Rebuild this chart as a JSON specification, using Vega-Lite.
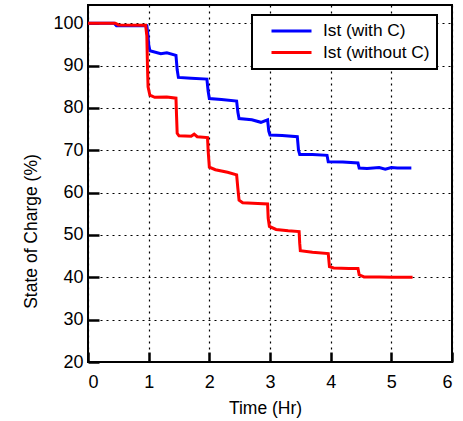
{
  "$schema": "https://vega.github.io/schema/vega-lite/v6.json",
  "width": 364,
  "height": 357,
  "autosize": {"type": "none"},
  "padding": {"left": 88, "top": 5, "right": 11, "bottom": 59},
  "background": "white",
  "config": {
    "font": "Liberation Sans",
    "view": {"stroke": "black", "strokeWidth": 2},
    "axis": {
      "domain": false,
      "grid": true,
      "gridColor": "black",
      "gridDash": [2, 4],
      "gridWidth": 1.2,
      "gridOpacity": 1,
      "labelFont": "Liberation Sans",
      "labelFontSize": 18,
      "labelColor": "black",
      "titleFont": "Liberation Sans",
      "titleFontSize": 17.5,
      "titleFontWeight": "normal",
      "titleColor": "black"
    }
  },
  "data": {
    "values": [
      {"t": 0, "soc": 100, "series": "Ist  (with C)"},
      {"t": 0.43, "soc": 100, "series": "Ist  (with C)"},
      {"t": 0.47, "soc": 99.4, "series": "Ist  (with C)"},
      {"t": 0.97, "soc": 99.4, "series": "Ist  (with C)"},
      {"t": 0.99, "soc": 97, "series": "Ist  (with C)"},
      {"t": 1.0, "soc": 95, "series": "Ist  (with C)"},
      {"t": 1.02, "soc": 93.5, "series": "Ist  (with C)"},
      {"t": 1.2, "soc": 92.8, "series": "Ist  (with C)"},
      {"t": 1.3, "soc": 93.0, "series": "Ist  (with C)"},
      {"t": 1.45, "soc": 92.4, "series": "Ist  (with C)"},
      {"t": 1.47, "soc": 89, "series": "Ist  (with C)"},
      {"t": 1.49, "soc": 87.2, "series": "Ist  (with C)"},
      {"t": 1.7, "soc": 87, "series": "Ist  (with C)"},
      {"t": 1.96, "soc": 86.8, "series": "Ist  (with C)"},
      {"t": 1.98, "soc": 84, "series": "Ist  (with C)"},
      {"t": 2.0, "soc": 82.2, "series": "Ist  (with C)"},
      {"t": 2.2, "soc": 82, "series": "Ist  (with C)"},
      {"t": 2.45, "soc": 81.6, "series": "Ist  (with C)"},
      {"t": 2.47, "soc": 79, "series": "Ist  (with C)"},
      {"t": 2.49, "soc": 77.5, "series": "Ist  (with C)"},
      {"t": 2.7, "soc": 77.2, "series": "Ist  (with C)"},
      {"t": 2.85, "soc": 76.6, "series": "Ist  (with C)"},
      {"t": 2.96, "soc": 77.2, "series": "Ist  (with C)"},
      {"t": 2.98, "soc": 74.5, "series": "Ist  (with C)"},
      {"t": 3.0, "soc": 73.6, "series": "Ist  (with C)"},
      {"t": 3.2, "soc": 73.5, "series": "Ist  (with C)"},
      {"t": 3.45, "soc": 73.2, "series": "Ist  (with C)"},
      {"t": 3.47, "soc": 70, "series": "Ist  (with C)"},
      {"t": 3.49, "soc": 69, "series": "Ist  (with C)"},
      {"t": 3.7, "soc": 69, "series": "Ist  (with C)"},
      {"t": 3.94, "soc": 68.8, "series": "Ist  (with C)"},
      {"t": 3.96, "soc": 67.3, "series": "Ist  (with C)"},
      {"t": 4.2, "soc": 67.2, "series": "Ist  (with C)"},
      {"t": 4.45, "soc": 67.0, "series": "Ist  (with C)"},
      {"t": 4.47, "soc": 65.8, "series": "Ist  (with C)"},
      {"t": 4.6, "soc": 65.7, "series": "Ist  (with C)"},
      {"t": 4.8, "soc": 65.9, "series": "Ist  (with C)"},
      {"t": 4.9, "soc": 65.5, "series": "Ist  (with C)"},
      {"t": 5.0, "soc": 65.9, "series": "Ist  (with C)"},
      {"t": 5.1, "soc": 65.8, "series": "Ist  (with C)"},
      {"t": 5.33, "soc": 65.8, "series": "Ist  (with C)"},
      {"t": 0, "soc": 100, "series": "Ist (without C)"},
      {"t": 0.45, "soc": 100, "series": "Ist (without C)"},
      {"t": 0.5, "soc": 99.6, "series": "Ist (without C)"},
      {"t": 0.95, "soc": 99.5, "series": "Ist (without C)"},
      {"t": 0.97, "soc": 97, "series": "Ist (without C)"},
      {"t": 0.98, "soc": 90, "series": "Ist (without C)"},
      {"t": 0.99, "soc": 85, "series": "Ist (without C)"},
      {"t": 1.02, "soc": 83, "series": "Ist (without C)"},
      {"t": 1.1, "soc": 82.5, "series": "Ist (without C)"},
      {"t": 1.3, "soc": 82.6, "series": "Ist (without C)"},
      {"t": 1.45, "soc": 82.3, "series": "Ist (without C)"},
      {"t": 1.46, "soc": 78, "series": "Ist (without C)"},
      {"t": 1.47, "soc": 74, "series": "Ist (without C)"},
      {"t": 1.5, "soc": 73.4, "series": "Ist (without C)"},
      {"t": 1.7, "soc": 73.3, "series": "Ist (without C)"},
      {"t": 1.75, "soc": 73.8, "series": "Ist (without C)"},
      {"t": 1.8, "soc": 73.2, "series": "Ist (without C)"},
      {"t": 1.97, "soc": 73.0, "series": "Ist (without C)"},
      {"t": 1.98, "soc": 70, "series": "Ist (without C)"},
      {"t": 2.0, "soc": 66, "series": "Ist (without C)"},
      {"t": 2.1, "soc": 65.4, "series": "Ist (without C)"},
      {"t": 2.3, "soc": 64.8, "series": "Ist (without C)"},
      {"t": 2.45, "soc": 64.2, "series": "Ist (without C)"},
      {"t": 2.47, "soc": 61, "series": "Ist (without C)"},
      {"t": 2.49, "soc": 58.2, "series": "Ist (without C)"},
      {"t": 2.55, "soc": 57.6, "series": "Ist (without C)"},
      {"t": 2.8, "soc": 57.4, "series": "Ist (without C)"},
      {"t": 2.96, "soc": 57.3, "series": "Ist (without C)"},
      {"t": 2.97, "soc": 54, "series": "Ist (without C)"},
      {"t": 2.99, "soc": 52, "series": "Ist (without C)"},
      {"t": 3.1, "soc": 51.3, "series": "Ist (without C)"},
      {"t": 3.3, "soc": 51.0, "series": "Ist (without C)"},
      {"t": 3.48, "soc": 50.8, "series": "Ist (without C)"},
      {"t": 3.49, "soc": 48, "series": "Ist (without C)"},
      {"t": 3.5, "soc": 46.3, "series": "Ist (without C)"},
      {"t": 3.7, "soc": 45.9, "series": "Ist (without C)"},
      {"t": 3.96, "soc": 45.6, "series": "Ist (without C)"},
      {"t": 3.98, "soc": 42.5, "series": "Ist (without C)"},
      {"t": 4.05, "soc": 42.2, "series": "Ist (without C)"},
      {"t": 4.3, "soc": 42.1, "series": "Ist (without C)"},
      {"t": 4.45, "soc": 42.1, "series": "Ist (without C)"},
      {"t": 4.47, "soc": 40.6, "series": "Ist (without C)"},
      {"t": 4.55, "soc": 40.1, "series": "Ist (without C)"},
      {"t": 4.8, "soc": 40.1, "series": "Ist (without C)"},
      {"t": 5.0, "soc": 40.0, "series": "Ist (without C)"},
      {"t": 5.2, "soc": 40.0, "series": "Ist (without C)"},
      {"t": 5.35, "soc": 40.0, "series": "Ist (without C)"}
    ]
  },
  "mark": {"type": "line", "strokeWidth": 3},
  "encoding": {
    "x": {
      "field": "t",
      "type": "quantitative",
      "title": "Time (Hr)",
      "scale": {"domain": [0, 6], "nice": false},
      "axis": {
        "values": [0, 1, 2, 3, 4, 5, 6],
        "ticks": true,
        "tickSize": -10,
        "tickWidth": 2.5,
        "tickColor": "black",
        "tickOpacity": 1,
        "labelPadding": 21,
        "titleX": 177,
        "titleY": 37
      }
    },
    "y": {
      "field": "soc",
      "type": "quantitative",
      "title": "State of Charge (%)",
      "scale": {"domain": [20, 104.3], "nice": false, "zero": false},
      "axis": {
        "values": [20, 30, 40, 50, 60, 70, 80, 90, 100],
        "ticks": true,
        "tickSize": -11,
        "tickWidth": 2.5,
        "tickColor": "black",
        "tickOpacity": 1,
        "labelPadding": 16,
        "titleX": -48,
        "titleY": 226
      }
    },
    "color": {
      "field": "series",
      "type": "nominal",
      "title": null,
      "scale": {"domain": ["Ist  (with C)", "Ist (without C)"], "range": ["#0000ff", "#ff0000"]},
      "legend": {
        "orient": "none",
        "legendX": 164,
        "legendY": 10,
        "strokeColor": "black",
        "fillColor": "white",
        "padding": 7,
        "symbolType": "stroke",
        "symbolSize": 1600,
        "symbolStrokeWidth": 3,
        "clipHeight": 18,
        "labelOffset": 10,
        "labelFontSize": 17.3,
        "labelColor": "black",
        "rowPadding": 3.6,
        "symbolOffset": 11,
        "encode": {"legend": {"update": {"strokeWidth": {"value": 2}}}}
      }
    }
  }
}
